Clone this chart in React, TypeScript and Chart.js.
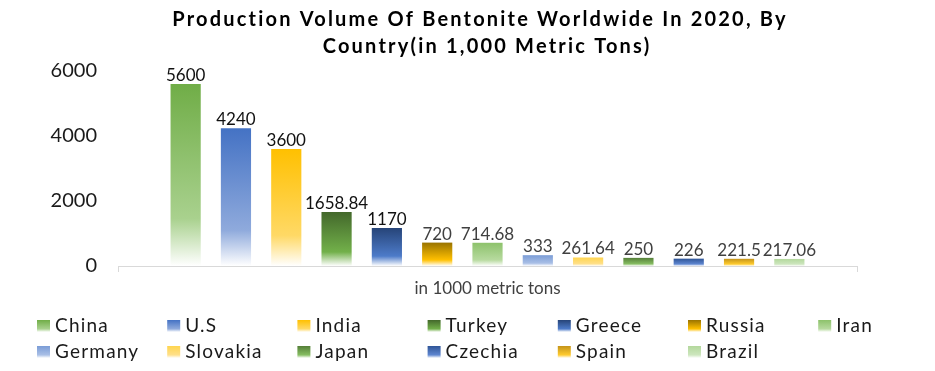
import React, { useEffect, useRef } from 'react';
import { Chart, registerables } from 'chart.js';

Chart.register(...registerables);

const titleLines = ['Production Volume Of Bentonite Worldwide In 2020, By', 'Country(in 1,000 Metric Tons)'];
const categories = ['in 1000 metric tons'];
const countries = ['China', 'U.S', 'India', 'Turkey', 'Greece', 'Russia', 'Iran', 'Germany', 'Slovakia', 'Japan', 'Czechia', 'Spain', 'Brazil'];
const values = [5600, 4240, 3600, 1658.84, 1170, 720, 714.68, 333, 261.64, 250, 226, 221.5, 217.06];
const valueLabels = ['5600', '4240', '3600', '1658.84', '1170', '720', '714.68', '333', '261.64', '250', '226', '221.5', '217.06'];
const topColors = ['#70AD47', '#4472C4', '#FFC000', '#43682B', '#264478', '#997300', '#8DC26B', '#7A9CD6', '#FFD54F', '#557F38', '#2F5597', '#C4941A', '#B3D89C'];
const midColors = ['#A9D18E', '#8FAADC', '#FFD966', '#72B04A', '#4D7BC9', '#FFC000', '#B7DA9F', '#A9BFE6', '#FFE08A', '#86BD62', '#5E86D0', '#FFCB2E', '#CDE6BE'];
const yTickValues = [0, 2000, 4000, 6000];

const FONT = 'Lato, "Open Sans", sans-serif';

function grad(ctx: CanvasRenderingContext2D, top: number, bottom: number, c0: string, c1: string) {
  const g = ctx.createLinearGradient(0, top, 0, bottom);
  g.addColorStop(0, c0);
  g.addColorStop(0.74, c1);
  g.addColorStop(1, '#ffffff');
  return g;
}

const titlePlugin = {
  id: 'spacedTitlePlugin',
  afterDraw(chart: any) {
    const ctx = chart.ctx as any;
    ctx.save();
    ctx.font = 'bold 20px ' + FONT;
    ctx.fillStyle = '#000000';
    ctx.textAlign = 'center';
    ctx.textBaseline = 'middle';
    ctx.letterSpacing = '2.2px';
    ctx.fillText(titleLines[0], 480, 20);
    ctx.fillText(titleLines[1], 487, 47);
    ctx.restore();
  },
};

const valueLabelPlugin = {
  id: 'valueLabelPlugin',
  afterDatasetsDraw(chart: any) {
    const ctx = chart.ctx as CanvasRenderingContext2D;
    chart.data.datasets.forEach((_ds: any, i: number) => {
      const meta = chart.getDatasetMeta(i);
      meta.data.forEach((el: any) => {
        ctx.save();
        ctx.font = '17px ' + FONT;
        ctx.fillStyle = i < 5 ? '#111111' : '#404040';
        ctx.textAlign = 'center';
        ctx.textBaseline = 'alphabetic';
        ctx.fillText(valueLabels[i], el.x, el.y - 3);
        ctx.restore();
      });
    });
  },
};

const legendPlugin = {
  id: 'gridLegendPlugin',
  afterDraw(chart: any) {
    const ctx = chart.ctx as any;
    countries.forEach((name, i) => {
      const col = i % 7;
      const row = Math.floor(i / 7);
      const x = 37 + col * 130.2;
      const yc = 326 + row * 26;
      ctx.save();
      ctx.fillStyle = grad(ctx, yc - 6, yc + 6, topColors[i], midColors[i]);
      ctx.fillRect(x, yc - 6, 13, 12);
      ctx.font = '19px ' + FONT;
      ctx.letterSpacing = '1.2px';
      ctx.fillStyle = '#1a1a1a';
      ctx.textAlign = 'left';
      ctx.textBaseline = 'middle';
      ctx.fillText(name, x + 18, yc);
      ctx.restore();
    });
  },
};

export default function App() {
  const ref = useRef<HTMLCanvasElement | null>(null);
  useEffect(() => {
    document.body.style.margin = '0';
    const canvas = ref.current!;
    const chart = new Chart(canvas, {
      type: 'bar',
      data: {
        labels: categories,
        datasets: countries.map((name, i) => ({
          label: name,
          data: [values[i]],
          categoryPercentage: 0.885,
          barPercentage: 0.6,
          backgroundColor: (c: any) => {
            const ch = c.chart;
            const ys = ch.scales && ch.scales.y;
            if (!ch.chartArea || !ys) return topColors[i];
            const top = ys.getPixelForValue(values[i]);
            const bottom = ys.getPixelForValue(0);
            return grad(ch.ctx, top, bottom, topColors[i], midColors[i]);
          },
          borderWidth: 0,
        })),
      },
      options: {
        responsive: false,
        devicePixelRatio: 1,
        animation: false,
        layout: { padding: { left: 0, right: 78, top: 71, bottom: 0 } },
        plugins: {
          legend: { display: false },
          tooltip: { enabled: false },
          title: { display: false },
        },
        scales: {
          x: {
            offset: true,
            grid: { display: true, drawOnChartArea: false, drawTicks: true, tickLength: 6, color: '#D9D9D9' },
            border: { display: true, color: '#D9D9D9' },
            ticks: { font: { family: FONT, size: 17 }, color: '#404040', padding: 6 },
            afterFit: (s: any) => { s.height = 105; },
          },
          y: {
            min: 0,
            max: 6000,
            grid: { display: false },
            border: { display: false },
            afterBuildTicks: (s: any) => { s.ticks = yTickValues.map((v) => ({ value: v })); },
            ticks: {
              font: { family: FONT, size: 20 },
              color: '#1a1a1a',
              padding: 13,
              callback: (v: any) => String(v),
            },
            afterFit: (s: any) => { s.width = 118; },
          },
        },
      },
      plugins: [valueLabelPlugin, legendPlugin, titlePlugin],
    } as any);
    return () => chart.destroy();
  }, []);
  return (
    <div style={{ width: 935, height: 371, background: '#ffffff' }}>
      <canvas ref={ref} width={935} height={371} />
    </div>
  );
}
